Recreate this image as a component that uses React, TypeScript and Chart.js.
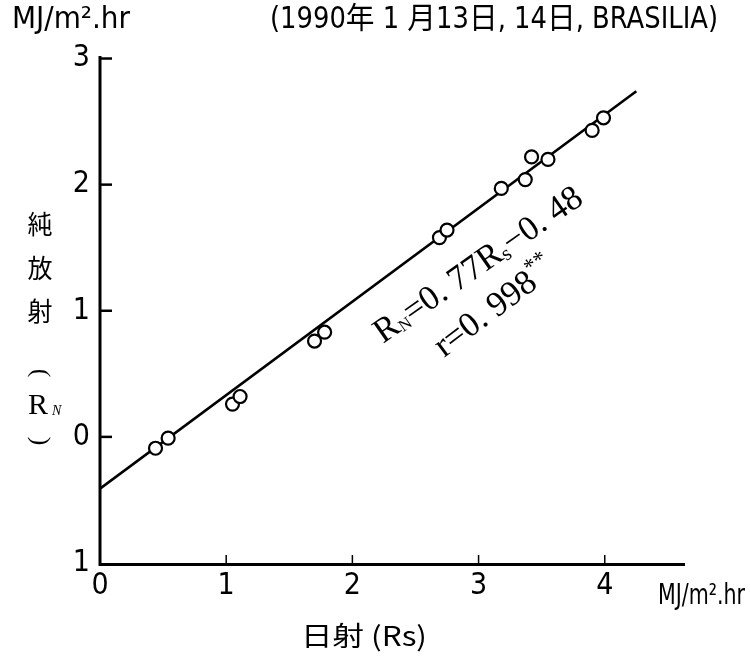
import React, { useEffect, useRef } from "react";
import { Chart, registerables } from "chart.js";

Chart.register(...registerables);

// ---- data ----
const rsValues = [0.44, 0.54, 1.05, 1.11, 1.7, 1.78, 2.69, 2.75, 3.18, 3.37, 3.42, 3.55, 3.9, 3.99];
const rnValues = [-0.09, -0.01, 0.26, 0.32, 0.76, 0.83, 1.58, 1.64, 1.97, 2.04, 2.22, 2.2, 2.43, 2.53];
const fitRs = [0, 4.25];
const fitRn = [-0.41, 2.74];
const xTickValues = [0, 1, 2, 3, 4];
const xTickLabels = ["0", "1", "2", "3", "4"];
const yTickValues = [-1, 0, 1, 2, 3];
const yTickLabels = ["1", "0", "1", "2", "3"];

const titleText = "(1990年 1 月13日, 14日, BRASILIA)";
const unitText = "MJ/m².hr";
const xTitleText = "日射 (Rs)";
const yTitleChars = ["純", "放", "射"];

const NARROW = "'Liberation Sans Narrow', 'DejaVu Sans Condensed', 'Noto Sans CJK JP', sans-serif";
const CJK = "'Noto Sans CJK JP', 'Liberation Sans Narrow', sans-serif";
const SERIF = "'Liberation Serif', 'DejaVu Serif', serif";

// draw text squeezed/stretched horizontally to a target width
function drawFit(
  ctx: CanvasRenderingContext2D,
  text: string,
  x: number,
  y: number,
  font: string,
  width: number,
  align: "left" | "center" = "left"
) {
  ctx.save();
  ctx.font = font;
  ctx.textBaseline = "middle";
  ctx.textAlign = "left";
  const w = ctx.measureText(text).width;
  const sx = width / w;
  const startX = align === "center" ? x - width / 2 : x;
  ctx.translate(startX, y);
  ctx.scale(sx, 1);
  ctx.fillText(text, 0, 0);
  ctx.restore();
}

function drawRot(
  ctx: CanvasRenderingContext2D,
  text: string,
  x: number,
  y: number,
  font: string,
  angleDeg: number
) {
  ctx.save();
  ctx.translate(x, y);
  ctx.rotate((angleDeg * Math.PI) / 180);
  ctx.font = font;
  ctx.textBaseline = "middle";
  ctx.textAlign = "center";
  ctx.fillText(text, 0, 0);
  ctx.restore();
}

function drawRotatedRuns(
  ctx: CanvasRenderingContext2D,
  x: number,
  y: number,
  angleDeg: number,
  runs: { t: string; size: number; dy: number }[]
) {
  ctx.save();
  ctx.translate(x, y);
  ctx.rotate((angleDeg * Math.PI) / 180);
  ctx.textBaseline = "alphabetic";
  ctx.textAlign = "left";
  let cx = 0;
  for (const r of runs) {
    ctx.font = `${r.size}px ${SERIF}`;
    ctx.fillText(r.t, cx, r.dy);
    cx += ctx.measureText(r.t).width;
  }
  ctx.restore();
}

const decorPlugin = {
  id: "decor",
  afterDatasetsDraw(chart: any) {
    const ctx: CanvasRenderingContext2D = chart.ctx;
    const xs = chart.scales.x;
    const ys = chart.scales.y;
    const { left, right, top, bottom } = chart.chartArea;
    ctx.save();
    ctx.strokeStyle = "#000";
    ctx.fillStyle = "#000";
    ctx.lineCap = "butt";
    // axes
    ctx.lineWidth = 3;
    ctx.beginPath();
    ctx.moveTo(left, top);
    ctx.lineTo(left, bottom + 1.5);
    ctx.lineTo(right + 2, bottom + 1.5);
    ctx.stroke();
    // y ticks (inward)
    ctx.lineWidth = 2.5;
    for (const v of yTickValues) {
      if (v === yTickValues[0]) continue;
      const py = ys.getPixelForValue(v);
      ctx.beginPath();
      ctx.moveTo(left, py);
      ctx.lineTo(left + 12, py);
      ctx.stroke();
    }
    // x ticks (inward)
    ctx.lineWidth = 1.5;
    for (const v of xTickValues) {
      if (v === xTickValues[0]) continue;
      const px = xs.getPixelForValue(v);
      ctx.beginPath();
      ctx.moveTo(px, bottom + 1);
      ctx.lineTo(px, bottom - 8);
      ctx.stroke();
    }
    // header / unit / axis title texts
    drawFit(ctx, unitText, 12, 20, `30px ${NARROW}`, 118, "left");
    drawFit(ctx, titleText, 270, 20, `30px ${NARROW}`, 448, "left");
    drawFit(ctx, unitText, 658, 597, `28px ${NARROW}`, 87, "left");
    drawFit(ctx, xTitleText, 364, 636, `27px ${CJK}`, 126, "center");
    // y title (vertical)
    const yPos = [224, 268, 311];
    yTitleChars.forEach((c, i) => drawFit(ctx, c, 40, yPos[i], `26px ${CJK}`, 25, "center"));
    drawRot(ctx, "(", 40, 373, `26px ${SERIF}`, 90);
    drawRot(ctx, ")", 40, 441, `26px ${SERIF}`, 90);
    ctx.font = `30px ${SERIF}`;
    ctx.textBaseline = "alphabetic";
    ctx.textAlign = "left";
    ctx.fillText("R", 28, 414);
    ctx.font = `italic 14px ${SERIF}`;
    ctx.fillText("N", 52, 415);
    // regression annotation
    drawRotatedRuns(ctx, 383, 344, -35, [
      { t: "R", size: 35, dy: 0 },
      { t: "N", size: 17, dy: 2 },
      { t: "=0. 77R", size: 35, dy: 0 },
      { t: "s", size: 21, dy: 3 },
      { t: "−0. 48", size: 35, dy: 0 },
    ]);
    drawRotatedRuns(ctx, 444, 358, -37, [
      { t: "r=0. 998", size: 35, dy: 0 },
      { t: "**", size: 23, dy: -14 },
    ]);
    ctx.restore();
  },
};

export default function App() {
  const ref = useRef<HTMLCanvasElement | null>(null);
  useEffect(() => {
    if (!ref.current) return;
    const tickFont = { family: NARROW, size: 30 };
    const chart = new Chart(ref.current, {
      type: "scatter",
      data: {
        datasets: [
          {
            type: "scatter",
            data: rsValues.map((x, i) => ({ x, y: rnValues[i] })),
            pointRadius: 6.5,
            pointBorderWidth: 2.2,
            pointBackgroundColor: "#fff",
            pointBorderColor: "#000",
            order: 0,
          },
          {
            type: "line",
            data: fitRs.map((x, i) => ({ x, y: fitRn[i] })),
            borderColor: "#000",
            borderWidth: 2.6,
            pointRadius: 0,
            fill: false,
            order: 1,
          } as any,
        ],
      },
      options: {
        responsive: false,
        animation: false,
        layout: { padding: { top: 56, right: 67, left: 0, bottom: 0 } },
        plugins: { legend: { display: false }, tooltip: { enabled: false } },
        scales: {
          x: {
            type: "linear",
            min: 0,
            max: 4.62,
            grid: { display: false, drawTicks: false },
            border: { display: false },
            afterBuildTicks: (s: any) => {
              s.ticks = xTickValues.map((v) => ({ value: v }));
            },
            afterFit: (s: any) => {
              s.height = 98;
            },
            ticks: {
              padding: 5,
              color: "#000",
              font: tickFont,
              maxRotation: 0,
              autoSkip: false,
              callback: (_v: any, i: number) => xTickLabels[i],
            },
          },
          y: {
            type: "linear",
            min: -1,
            max: 3.02,
            grid: { display: false, drawTicks: false },
            border: { display: false },
            afterBuildTicks: (s: any) => {
              s.ticks = yTickValues.map((v) => ({ value: v }));
            },
            afterFit: (s: any) => {
              s.width = 100;
            },
            ticks: {
              padding: 10,
              color: "#000",
              font: tickFont,
              autoSkip: false,
              callback: (_v: any, i: number) => yTickLabels[i],
            },
          },
        },
      },
      plugins: [decorPlugin],
    });
    return () => chart.destroy();
  }, []);
  return (
    <div style={{ position: "fixed", left: 0, top: 0, width: 750, height: 661, background: "#fff" }}>
      <canvas ref={ref} width={750} height={661} style={{ display: "block" }} />
    </div>
  );
}
